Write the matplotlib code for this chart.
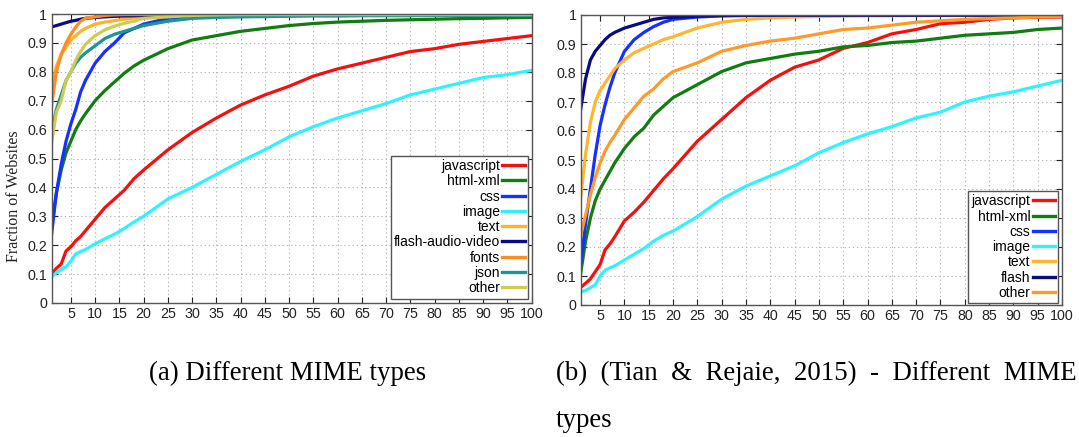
import matplotlib
matplotlib.use("Agg")
import matplotlib.pyplot as plt

plt.rcParams['font.family'] = ['Liberation Sans', 'DejaVu Sans']

W, H = 1079, 437

# common x grid (number of objects of a given type)
x_pts = [1, 2, 3, 4, 5, 6, 7, 8, 10, 12, 14, 16, 18, 20, 25, 30, 35, 40, 45, 50,
         55, 60, 65, 70, 75, 80, 85, 90, 95, 100]

# (a) Different MIME types
a_javascript = [0.10, 0.12, 0.135, 0.18, 0.195, 0.215, 0.23, 0.25, 0.29, 0.33, 0.36, 0.39, 0.43, 0.46,
                0.53, 0.59, 0.64, 0.685, 0.72, 0.75, 0.785, 0.81, 0.83, 0.85, 0.87, 0.88, 0.895, 0.905,
                0.915, 0.925]
a_html = [0.27, 0.38, 0.46, 0.52, 0.56, 0.60, 0.63, 0.655, 0.70, 0.735, 0.765, 0.795, 0.82, 0.84,
          0.88, 0.91, 0.925, 0.94, 0.95, 0.96, 0.967, 0.972, 0.975, 0.978, 0.98, 0.982, 0.984, 0.985,
          0.987, 0.988]
a_css = [0.235, 0.38, 0.48, 0.56, 0.62, 0.67, 0.73, 0.77, 0.83, 0.87, 0.90, 0.935, 0.95, 0.965,
         0.985, 0.99, 0.993, 0.995, 0.996, 0.997, 0.997, 0.998, 0.998, 0.998, 0.998, 0.998, 0.998,
         0.998, 0.998, 0.998]
a_image = [0.09, 0.105, 0.115, 0.125, 0.145, 0.17, 0.178, 0.185, 0.205, 0.222, 0.238, 0.258, 0.28,
           0.30, 0.36, 0.40, 0.445, 0.49, 0.53, 0.575, 0.61, 0.64, 0.665, 0.69, 0.72, 0.74, 0.76,
           0.78, 0.79, 0.805]
a_text = [0.74, 0.82, 0.86, 0.885, 0.91, 0.925, 0.94, 0.95, 0.965, 0.972, 0.977, 0.982, 0.986, 0.99,
          0.995, 0.997, 0.998, 0.998, 0.998, 0.998, 0.998, 0.998, 0.998, 0.998, 0.998, 0.998, 0.998,
          0.998, 0.998, 0.998]
a_flash = [0.955, 0.96, 0.965, 0.97, 0.975, 0.978, 0.982, 0.985, 0.988, 0.99, 0.992, 0.993, 0.994,
           0.995, 0.996, 0.997, 0.998, 0.998, 0.998, 0.998, 0.998, 0.998, 0.998, 0.998, 0.998, 0.998,
           0.998, 0.998, 0.998, 0.998]
a_fonts = [0.68, 0.80, 0.86, 0.90, 0.93, 0.955, 0.975, 0.985, 0.99, 0.995, 0.997, 0.998, 0.998, 0.998,
           0.998, 0.998, 0.998, 0.998, 0.998, 0.998, 0.998, 0.998, 0.998, 0.998, 0.998, 0.998, 0.998,
           0.998, 0.998, 0.998]
a_json = [0.59, 0.67, 0.72, 0.77, 0.80, 0.83, 0.85, 0.865, 0.89, 0.915, 0.93, 0.94, 0.95, 0.96,
          0.975, 0.985, 0.988, 0.99, 0.991, 0.992, 0.993, 0.993, 0.994, 0.994, 0.994, 0.995, 0.995,
          0.995, 0.995, 0.995]
a_other = [0.55, 0.66, 0.70, 0.77, 0.80, 0.84, 0.87, 0.895, 0.925, 0.945, 0.958, 0.968, 0.975, 0.985,
           0.99, 0.995, 0.997, 0.998, 0.998, 0.998, 0.998, 0.998, 0.998, 0.998, 0.998, 0.998, 0.998,
           0.998, 0.998, 0.998]

# (b) Tian & Rejaie, 2015
b_javascript = [0.06, 0.075, 0.09, 0.115, 0.14, 0.19, 0.21, 0.235, 0.29, 0.32, 0.355, 0.395, 0.435,
                0.47, 0.565, 0.64, 0.715, 0.775, 0.82, 0.845, 0.885, 0.905, 0.935, 0.95, 0.97, 0.975,
                0.985, 0.99, 0.992, 0.993]
b_html = [0.11, 0.22, 0.30, 0.36, 0.40, 0.43, 0.46, 0.49, 0.54, 0.58, 0.61, 0.655, 0.685, 0.715,
          0.76, 0.805, 0.835, 0.85, 0.865, 0.875, 0.89, 0.895, 0.905, 0.91, 0.92, 0.93, 0.935, 0.94,
          0.95, 0.955]
b_css = [0.14, 0.28, 0.40, 0.52, 0.62, 0.69, 0.75, 0.80, 0.875, 0.915, 0.94, 0.96, 0.975, 0.985,
         0.993, 0.997, 0.998, 0.999, 0.999, 0.999, 0.999, 0.999, 0.999, 0.999, 0.999, 0.999, 0.999,
         0.999, 0.999, 0.999]
b_image = [0.045, 0.05, 0.06, 0.07, 0.10, 0.12, 0.128, 0.135, 0.155, 0.175, 0.195, 0.22, 0.24, 0.255,
           0.305, 0.365, 0.41, 0.445, 0.48, 0.525, 0.56, 0.59, 0.615, 0.645, 0.665, 0.70, 0.72, 0.735,
           0.755, 0.775]
b_text = [0.37, 0.52, 0.63, 0.70, 0.74, 0.765, 0.79, 0.815, 0.845, 0.87, 0.885, 0.90, 0.915, 0.925,
          0.955, 0.975, 0.985, 0.99, 0.993, 0.995, 0.996, 0.997, 0.997, 0.998, 0.998, 0.998, 0.998,
          0.998, 0.998, 0.998]
b_flash = [0.675, 0.78, 0.845, 0.875, 0.895, 0.915, 0.93, 0.94, 0.955, 0.965, 0.975, 0.985, 0.99,
           0.992, 0.996, 0.998, 0.999, 0.999, 0.999, 0.999, 0.999, 0.999, 0.999, 0.999, 0.999, 0.999,
           0.999, 0.999, 0.999, 0.999]
b_other = [0.24, 0.31, 0.38, 0.44, 0.49, 0.53, 0.56, 0.585, 0.64, 0.68, 0.72, 0.745, 0.78, 0.805,
           0.835, 0.875, 0.895, 0.91, 0.92, 0.935, 0.95, 0.955, 0.965, 0.975, 0.98, 0.985, 0.988,
           0.99, 0.993, 0.995]

a_labels = ['javascript', 'html-xml', 'css', 'image', 'text', 'flash-audio-video', 'fonts', 'json', 'other']
a_series = [a_javascript, a_html, a_css, a_image, a_text, a_flash, a_fonts, a_json, a_other]
a_colors = ['#f51010', '#117d11', '#1530ff', '#2ff2ff', '#ffb22a', '#0b0b80', '#ff8c22', '#1a9696', '#cccc55']

b_labels = ['javascript', 'html-xml', 'css', 'image', 'text', 'flash', 'other']
b_series = [b_javascript, b_html, b_css, b_image, b_text, b_flash, b_other]
b_colors = ['#f51010', '#117d11', '#1530ff', '#2ff2ff', '#ffb530', '#0b0b80', '#ff9a2a']

caption_a = '(a) Different MIME types'
caption_b1 = '(b)  (Tian  &  Rejaie,  2015)  -  Different  MIME'
caption_b2 = 'types'


def px(x0, y0, x1, y1):
    # pixel box -> figure fraction rect
    return [x0 / W, 1 - y1 / H, (x1 - x0) / W, (y1 - y0) / H]


fig = plt.figure(figsize=(W / 100, H / 100), dpi=100)
ax1 = fig.add_axes(px(51.5, 14, 531.5, 303))
ax2 = fig.add_axes(px(580.7, 15, 1062, 305))


def style(ax):
    ax.set_xlim(1, 100)
    ax.set_ylim(0, 1)
    ax.set_xticks(range(5, 101, 5))
    ax.set_yticks([i / 10 for i in range(11)])
    ax.set_yticklabels(['0'] + ['%.1f' % (i / 10) for i in range(1, 10)] + ['1'])
    ax.grid(True, linestyle=(0, (1.2, 2.5)), color='#b8b8b8', linewidth=0.8)
    ax.tick_params(direction='in', length=4, width=0.8, top=True, right=True,
                   labelsize=10.3, colors='#222222', pad=3)
    for s in ax.spines.values():
        s.set_color('#555555')
        s.set_linewidth(1.0)


def legend(ax, dx, dy):
    w = ax.get_position().width * W
    h = ax.get_position().height * H
    lg = ax.legend(loc='lower right', bbox_to_anchor=(1 - dx / w, dy / h), borderaxespad=0,
                   markerfirst=False, fontsize=10, handlelength=1.6, handletextpad=0.15,
                   labelspacing=0.09, borderpad=0.25, fancybox=False, framealpha=1)
    lg.get_frame().set_edgecolor('#555555')
    lg.get_frame().set_linewidth(1.0)
    for line in lg.get_lines():
        line.set_linewidth(2.4)


for ys, lab, c in zip(a_series, a_labels, a_colors):
    ax1.plot(x_pts, ys, color=c, linewidth=2.3, label=lab, clip_on=True)
style(ax1)
legend(ax1, 3.5, 4.5)

for ys, lab, c in zip(b_series, b_labels, b_colors):
    ax2.plot(x_pts, ys, color=c, linewidth=2.3, label=lab, clip_on=True)
style(ax2)
legend(ax2, 3.7, 1.7)

fig.text(14.5 / W, 1 - 196 / H, 'Fraction of Websites', rotation=90, ha='center', va='center',
         fontsize=11.5, family='Liberation Serif', color='#222222')

fig.text(287.5 / W, 1 - 380 / H, caption_a, ha='center', va='baseline',
         fontsize=19.4, family='Liberation Serif')
fig.text(556 / W, 1 - 380 / H, caption_b1, ha='left', va='baseline',
         fontsize=19.4, family='Liberation Serif')
fig.text(556 / W, 1 - 426.7 / H, caption_b2, ha='left', va='baseline',
         fontsize=19.4, family='Liberation Serif')

fig.savefig('out.png', dpi=100)
